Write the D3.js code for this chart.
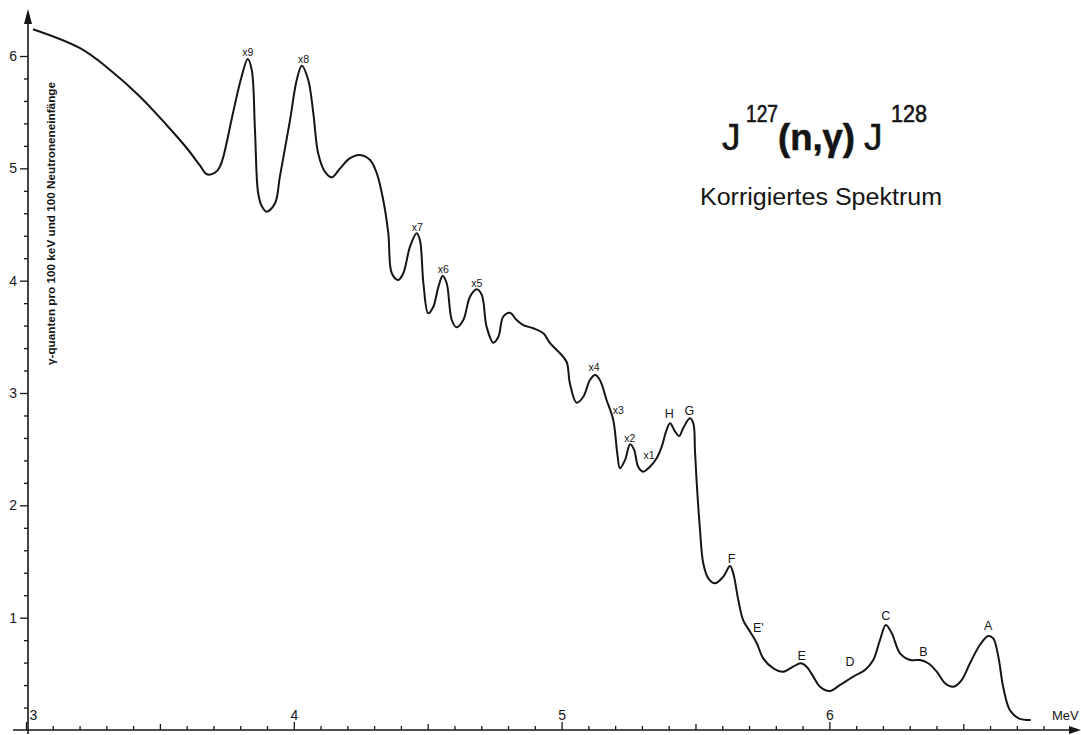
<!DOCTYPE html>
<html>
<head>
<meta charset="utf-8">
<script src="https://cdn.jsdelivr.net/npm/d3@7"></script>
<style>
  html, body { margin: 0; padding: 0; background: #fff; }
  svg { display: block; }
  text { font-family: "Liberation Sans", Arial, sans-serif; fill: #151515; }
</style>
</head>
<body>
<svg id="chart" width="1081" height="735"></svg>
<script>
// Gamma energy (MeV) of each traced point of the corrected spectrum
const energy = [
  3.026,3.202,3.314,3.426,3.525,3.600,3.650,3.675,3.706,3.724,3.737,
  3.773,3.805,3.828,3.843,3.855,3.867,3.881,3.899,3.930,3.948,3.986,
  4.011,4.030,4.054,4.073,4.091,4.116,4.142,4.173,4.210,4.247,
  4.285,4.310,4.334,4.353,4.366,4.390,4.409,4.434,4.459,4.471,
  4.484,4.502,4.521,4.540,4.556,4.571,4.590,4.608,4.633,4.658,
  4.683,4.702,4.720,4.745,4.764,4.782,4.807,4.832,4.857,4.894,
  4.932,4.957,4.994,5.019,5.031,5.056,5.081,5.106,5.125,5.143,
  5.168,5.193,5.208,5.218,5.237,5.256,5.271,5.286,5.305,5.330,
  5.355,5.374,5.390,5.405,5.424,5.439,5.454,5.479,5.492,5.498,
  5.504,5.517,5.529,5.548,5.573,5.604,5.629,5.641,5.660,5.678,
  5.704,5.729,5.753,5.791,5.828,5.865,5.893,5.915,5.940,5.965,
  6.002,6.040,6.089,6.133,6.164,6.189,6.211,6.233,6.264,6.302,
  6.339,6.369,6.401,6.432,6.463,6.494,6.525,6.562,6.593,6.612,
  6.631,6.649,6.674,6.707,6.752
];

// γ-quanta per 100 keV and 100 neutron captures
const intensity = [
  6.238,6.069,5.876,5.638,5.386,5.181,5.024,4.947,4.961,5.015,5.104,
  5.493,5.816,5.973,5.876,5.341,4.778,4.660,4.614,4.689,4.926,5.430,
  5.787,5.914,5.787,5.490,5.134,4.970,4.920,5.000,5.090,5.119,
  5.074,4.955,4.718,4.422,4.066,4.006,4.066,4.303,4.422,4.362,
  3.977,3.710,3.768,3.946,4.042,3.977,3.650,3.585,3.650,3.857,
  3.923,3.873,3.590,3.448,3.501,3.679,3.715,3.650,3.605,3.576,
  3.532,3.443,3.354,3.276,3.086,2.914,2.967,3.116,3.160,3.116,
  2.938,2.760,2.463,2.330,2.404,2.543,2.493,2.344,2.300,2.344,
  2.419,2.522,2.656,2.730,2.656,2.617,2.686,2.775,2.730,2.493,
  2.226,1.780,1.484,1.350,1.306,1.365,1.460,1.395,1.157,0.979,
  0.875,0.772,0.638,0.549,0.519,0.564,0.594,0.564,0.475,0.385,
  0.347,0.401,0.475,0.534,0.623,0.801,0.935,0.861,0.683,0.623,
  0.623,0.594,0.519,0.416,0.385,0.445,0.594,0.757,0.837,0.816,
  0.653,0.385,0.178,0.104,0.089
];

// Line names and where each name is written (energy, intensity)
const lineNames   = ["x9","x8","x7","x6","x5","x4","x3","x2","x1","H","G","F","E'","E","D","C","B","A"];
const lineEnergy  = [3.828,4.036,4.461,4.558,4.683,5.121,5.212,5.255,5.327,5.402,5.477,5.635,5.735,5.897,6.077,6.211,6.351,6.593];
const lineLevel   = [6.000,5.938,4.438,4.068,3.944,3.200,2.809,2.564,2.413,2.773,2.804,1.491,0.868,0.623,0.574,0.979,0.663,0.886];

// Axis ticks
const xTickLabels = [3, 4, 5, 6];
const yTickLabels = [1, 2, 3, 4, 5, 6];

const svg = d3.select("#chart");
const ink = "#151515";
const font = '"Liberation Sans", Arial, sans-serif';

const x = d3.scaleLinear().domain([3, 6.8]).range([26, 1043.6]);
const y = d3.scaleLinear().domain([0, 6]).range([730, 56]);
const x0 = x(3) + 2, y0 = y(0);

// ----- axes -----
const xAxisG = svg.append("g").attr("transform", `translate(0,${y0})`);
const tenths = d3.range(31, 69).map(d => d / 10);
const minorX = tenths.filter(d => Math.round(d * 10) % 5 !== 0);
xAxisG.append("g").call(d3.axisTop(x).tickValues(minorX).tickSize(4).tickFormat(""));
xAxisG.append("g").call(d3.axisTop(x).tickValues([3.5, 4.5, 5.5, 6.5]).tickSize(6).tickFormat(""));
xAxisG.append("g").call(d3.axisTop(x).tickValues(xTickLabels).tickSize(8).tickPadding(2).tickFormat(d3.format("d")));
xAxisG.selectAll(".domain").remove();
xAxisG.selectAll("line").attr("stroke", ink).attr("stroke-width", 1.3);
xAxisG.selectAll("text").attr("font-size", 14).attr("fill", ink)
  .attr("font-family", font)
  .attr("dx", d => d === 3 ? 7 : 0);

const yAxisG = svg.append("g").attr("transform", `translate(${x0},0)`);
const minorY = d3.range(1, 31).filter(d => d % 5 !== 0).map(d => d / 5);
yAxisG.append("g").call(d3.axisLeft(y).tickValues(minorY).tickSize(4).tickFormat(""));
yAxisG.append("g").call(d3.axisLeft(y).tickValues(yTickLabels).tickSize(8).tickPadding(3).tickFormat(d3.format("d")));
yAxisG.selectAll(".domain").remove();
yAxisG.selectAll("line").attr("stroke", ink).attr("stroke-width", 1.3);
yAxisG.selectAll("text").attr("font-size", 14).attr("fill", ink)
  .attr("font-family", font);

// axis lines with arrowheads
svg.append("line").attr("x1", 13).attr("x2", 1072).attr("y1", y0).attr("y2", y0)
  .attr("stroke", ink).attr("stroke-width", 1.6);
svg.append("path").attr("d", `M1081,${y0} L1069,${y0 - 4} L1069,${y0 + 4} Z`).attr("fill", ink);
svg.append("line").attr("x1", x0).attr("x2", x0).attr("y1", y0 + 4).attr("y2", 22)
  .attr("stroke", ink).attr("stroke-width", 1.6);
svg.append("path").attr("d", `M${x0},9 L${x0 - 4},24 L${x0 + 4},24 Z`).attr("fill", ink);

svg.append("text").attr("x", 1052).attr("y", y0 - 10).attr("font-size", 13).text("MeV");

// axis title
svg.append("text")
  .attr("transform", `translate(55,223.5) rotate(-90)`)
  .attr("text-anchor", "middle")
  .attr("font-size", 11.5)
  .attr("font-weight", "bold")
  .attr("textLength", 283)
  .attr("lengthAdjust", "spacingAndGlyphs")
  .text("γ-quanten pro 100 keV und 100 Neutroneneinfänge");

// ----- spectrum -----
const points = d3.zip(energy, intensity);
svg.append("path")
  .datum(points)
  .attr("fill", "none")
  .attr("stroke", ink)
  .attr("stroke-width", 2)
  .attr("stroke-linejoin", "round")
  .attr("d", d3.line().x(d => x(d[0])).y(d => y(d[1])).curve(d3.curveCatmullRom.alpha(0.5)));

// ----- line names -----
svg.append("g").selectAll("text")
  .data(d3.zip(lineNames, lineEnergy, lineLevel))
  .join("text")
  .attr("x", d => x(d[1]))
  .attr("y", d => y(d[2]))
  .attr("text-anchor", "middle")
  .attr("font-size", d => d[0].startsWith("x") ? 10.5 : 12.5)
  .text(d => d[0]);

// ----- title -----
const title = svg.append("g").attr("stroke", ink).attr("stroke-width", 0.6);
title.append("text").attr("x", 722).attr("y", 150).attr("font-size", 37).text("J");
title.append("text").attr("x", 746).attr("y", 122).attr("font-size", 23)
  .attr("textLength", 32).attr("lengthAdjust", "spacingAndGlyphs").text("127");
title.append("text").attr("x", 778).attr("y", 150).attr("font-size", 37).attr("font-weight", "bold")
  .attr("textLength", 77).attr("lengthAdjust", "spacingAndGlyphs").text("(n,γ)");
title.append("text").attr("x", 864).attr("y", 150).attr("font-size", 37).text("J");
title.append("text").attr("x", 891).attr("y", 122).attr("font-size", 23)
  .attr("textLength", 36).attr("lengthAdjust", "spacingAndGlyphs").text("128");

svg.append("text").attr("x", 700).attr("y", 205).attr("font-size", 23)
  .attr("textLength", 242).attr("lengthAdjust", "spacingAndGlyphs")
  .text("Korrigiertes Spektrum");
</script>
</body>
</html>
